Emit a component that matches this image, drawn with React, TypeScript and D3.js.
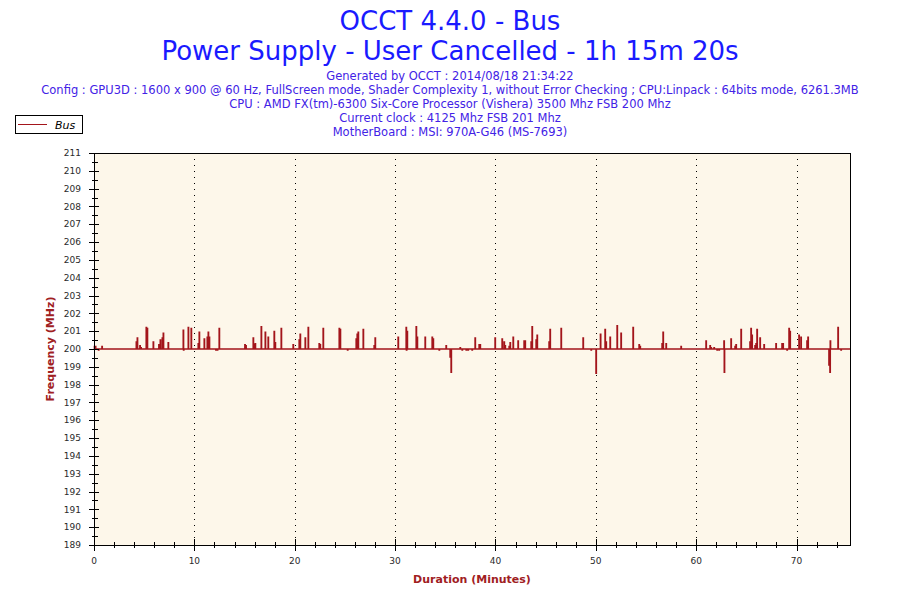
import React from "react";
import * as d3 from "d3";

const titleLines = ["OCCT 4.4.0 - Bus", "Power Supply - User Cancelled - 1h 15m 20s"];
const infoLines = [
  "Generated by OCCT : 2014/08/18 21:34:22",
  "Config : GPU3D : 1600 x 900 @ 60 Hz, FullScreen mode, Shader Complexity 1, without Error Checking ; CPU:Linpack : 64bits mode, 6261.3MB",
  "CPU : AMD FX(tm)-6300 Six-Core Processor (Vishera) 3500 Mhz FSB 200 Mhz",
  "Current clock : 4125 Mhz FSB 201 Mhz",
  "MotherBoard : MSI: 970A-G46 (MS-7693)",
];
const seriesName = "Bus";
const yAxisTitle = "Frequency (MHz)";
const xAxisTitle = "Duration (Minutes)";

const xDomain = [0, 75.33];
const yDomain = [189, 211];
const xMajorTicks = [0, 10, 20, 30, 40, 50, 60, 70];
const baselineMHz = 200;
const sampleMinutes = 1 / 60;

// spikes away from the 200 MHz baseline: time (minutes) and value (MHz)
const spikeMinutes = [
  0.05, 0.15, 0.46, 0.8, 4.22, 4.32, 4.58, 4.68, 5.21, 5.31, 5.91, 6.47, 6.61, 6.81, 6.91, 7.4,
  8.9, 8.93, 9.4, 9.69, 10.39, 10.49, 10.99, 11.29, 11.39, 11.49, 12.15, 12.3, 12.48,
  15.04, 15.14, 15.87, 15.97, 16.07, 16.67, 17.07, 17.36, 17.96, 18.06, 18.66, 19.85,
  20.45, 20.55, 21.05, 21.35, 22.44, 22.54, 22.84, 24.44, 24.54,
  25.27, 26.13, 26.23, 26.33, 26.83, 27.92, 28.02, 30.31, 31.11, 31.14, 31.21, 32.11, 32.21,
  33.0, 33.7, 33.8, 34.4, 35.09, 35.49, 35.59, 36.49, 36.69, 37.09, 37.28, 37.68, 37.98,
  38.38, 38.48, 39.97, 40.67, 40.87, 40.97, 41.37, 41.47, 41.77, 42.26, 42.86, 42.96,
  43.56, 43.66, 44.06, 44.16, 45.35, 45.45, 46.55, 48.74, 49.54, 50.03,
  50.47, 50.93, 51.03, 51.43, 52.13, 52.52, 53.72, 54.32, 54.42, 56.61, 56.71, 57.01, 58.5,
  60.99, 61.39, 61.49, 61.79, 62.09, 62.29, 62.78, 62.81, 63.48, 63.88, 63.98, 64.48,
  65.37, 65.47, 65.57, 65.87, 65.97, 66.07, 66.37, 66.77, 67.96, 68.56, 68.66, 69.06,
  69.26, 69.36, 70.25, 70.45, 71.05, 71.15, 73.24, 73.34, 73.37, 74.14, 74.44,
];
const spikeMHz = [
  200.13, 200.13, 199.95, 200.13, 200.39, 200.61, 200.18, 200.07, 201.2, 201.14, 200.39, 200.23, 200.5, 200.61, 200.88, 200.34,
  201.04, 199.95, 201.2, 201.14, 200.29, 200.93, 200.55, 200.66, 200.93, 200.66, 199.95, 199.95, 201.14,
  200.23, 200.18, 200.61, 200.23, 200.29, 201.25, 200.93, 200.66, 200.98, 200.34, 201.14, 200.23,
  200.5, 200.82, 200.61, 201.2, 200.29, 200.23, 201.14, 201.14, 201.09,
  199.95, 200.55, 200.82, 200.93, 201.09, 200.18, 200.61, 200.66, 201.2, 199.95, 200.98, 201.25, 200.66,
  200.66, 200.66, 200.55, 199.95, 200.18, 199.55, 198.7, 200.07, 199.95, 199.95, 199.95, 199.95, 200.61,
  200.23, 200.23, 200.61, 200.55, 200.39, 200.18, 200.13, 200.34, 200.66, 200.45, 200.45, 200.45,
  200.39, 201.25, 200.5, 200.77, 200.39, 201.09, 201.14, 200.61, 199.95, 198.65,
  200.82, 201.09, 200.39, 200.66, 201.3, 200.88, 201.2, 200.23, 200.13, 200.29, 200.93, 200.29, 200.13,
  200.45, 200.18, 200.07, 200.07, 199.95, 199.95, 200.45, 198.7, 200.55, 200.13, 200.23, 201.09,
  200.39, 201.14, 200.77, 200.18, 200.29, 201.09, 200.61, 200.23, 200.29, 200.29, 200.29, 199.95,
  201.14, 200.98, 200.77, 200.66, 200.45, 200.66, 199.11, 198.7, 200.45, 201.2, 199.95,
];

const W = 900;
const H = 600;
const plot = { left: 94, right: 850, top: 153, bottom: 545 };

const colors = {
  title: "#1a1aff",
  info: "#4222e6",
  line: "#a3151b",
  axisTitle: "#a0201f",
  plotBg: "#fdf7ea",
  tick: "#2a2a2a",
};

export default function App() {
  const x = d3.scaleLinear().domain(xDomain).range([plot.left, plot.right]);
  const y = d3.scaleLinear().domain(yDomain).range([plot.bottom, plot.top]);

  const order = d3.range(spikeMinutes.length).sort((a, b) => spikeMinutes[a] - spikeMinutes[b]);
  const pts: [number, number][] = [[xDomain[0], baselineMHz]];
  order.forEach((i) => {
    const t = spikeMinutes[i];
    const v = spikeMHz[i];
    pts.push([t, baselineMHz], [t, v], [t + sampleMinutes, v], [t + sampleMinutes, baselineMHz]);
  });
  pts.push([xDomain[1], baselineMHz]);
  const line = d3
    .line<[number, number]>()
    .x((d) => x(d[0]))
    .y((d) => y(d[1]));

  const yMajor = d3.range(yDomain[0], yDomain[1] + 1, 1);
  const yMinor = d3.range(yDomain[0] + 0.5, yDomain[1], 1);
  const xMinor = d3.range(2, xDomain[1], 2).filter((v) => v % 10 !== 0);

  const font = "'DejaVu Sans', Verdana, sans-serif";

  return (
    <div style={{ position: "absolute", left: 0, top: 0 }}>
      <svg width={W} height={H} style={{ display: "block", background: "#ffffff" }}>
        <text x={450} y={30} textAnchor="middle" fontFamily={font} fontSize={26} fill={colors.title}>
          {titleLines[0]}
        </text>
        <text x={450} y={60} textAnchor="middle" fontFamily={font} fontSize={26} fill={colors.title}>
          {titleLines[1]}
        </text>
        {infoLines.map((s, i) => (
          <text key={i} x={450} y={80 + i * 14} textAnchor="middle" fontFamily={font} fontSize={11.5} fill={colors.info}>
            {s}
          </text>
        ))}

        {/* legend */}
        <rect x={15.5} y={115.5} width={67} height={18} fill="#ffffff" stroke="#000000" strokeWidth={1} />
        <line x1={18} x2={47} y1={124.5} y2={124.5} stroke={colors.line} strokeWidth={1} />
        <text x={55} y={128.5} fontFamily={font} fontSize={11} fontStyle="italic" fill="#000000">
          {seriesName}
        </text>

        {/* plot area */}
        <rect x={plot.left} y={plot.top} width={plot.right - plot.left} height={plot.bottom - plot.top} fill={colors.plotBg} />
        {xMajorTicks
          .filter((v) => v > 0)
          .map((v) => (
            <line
              key={"g" + v}
              x1={Math.round(x(v)) + 0.5}
              x2={Math.round(x(v)) + 0.5}
              y1={plot.top}
              y2={plot.bottom}
              stroke="#000000"
              strokeWidth={1}
              strokeDasharray="1 5"
            />
          ))}

        <path d={line(pts) || ""} fill="none" stroke={colors.line} strokeWidth={1.7} />

        {/* frame */}
        <line x1={plot.left} x2={plot.right + 0.5} y1={plot.top + 0.5} y2={plot.top + 0.5} stroke="#000" />
        <line x1={plot.right + 0.5} x2={plot.right + 0.5} y1={plot.top} y2={plot.bottom} stroke="#000" />
        <line x1={plot.left + 0.5} x2={plot.left + 0.5} y1={plot.top} y2={plot.bottom + 0.5} stroke="#000" />
        <line x1={plot.left} x2={plot.right + 1} y1={plot.bottom + 0.5} y2={plot.bottom + 0.5} stroke="#000" />

        {/* y ticks */}
        {yMajor.map((v) => (
          <g key={"y" + v}>
            <line x1={plot.left - 5} x2={plot.left + 5} y1={Math.round(y(v)) + 0.5} y2={Math.round(y(v)) + 0.5} stroke="#000" />
            <text x={81} y={y(v) + 3.2} textAnchor="end" fontFamily={font} fontSize={9} fill={colors.tick}>
              {v}
            </text>
          </g>
        ))}
        {yMinor.map((v) => (
          <line key={"ym" + v} x1={plot.left - 2} x2={plot.left + 4} y1={Math.round(y(v)) + 0.5} y2={Math.round(y(v)) + 0.5} stroke="#000" />
        ))}

        {/* x ticks */}
        {xMajorTicks.map((v) => (
          <g key={"x" + v}>
            <line x1={Math.round(x(v)) + 0.5} x2={Math.round(x(v)) + 0.5} y1={plot.bottom - 6} y2={plot.bottom + 6} stroke="#000" />
            <text x={x(v)} y={564} textAnchor="middle" fontFamily={font} fontSize={9} fill={colors.tick}>
              {v}
            </text>
          </g>
        ))}
        {xMinor.map((v) => (
          <line key={"xm" + v} x1={Math.round(x(v)) + 0.5} x2={Math.round(x(v)) + 0.5} y1={plot.bottom - 3} y2={plot.bottom + 3} stroke="#000" />
        ))}

        {/* axis titles */}
        <text
          transform={`translate(54, ${(plot.top + plot.bottom) / 2}) rotate(-90)`}
          textAnchor="middle"
          fontFamily={font}
          fontWeight="bold"
          fontSize={11}
          fill={colors.axisTitle}
        >
          {yAxisTitle}
        </text>
        <text x={472} y={583} textAnchor="middle" fontFamily={font} fontWeight="bold" fontSize={11} fill={colors.axisTitle}>
          {xAxisTitle}
        </text>
      </svg>
    </div>
  );
}
